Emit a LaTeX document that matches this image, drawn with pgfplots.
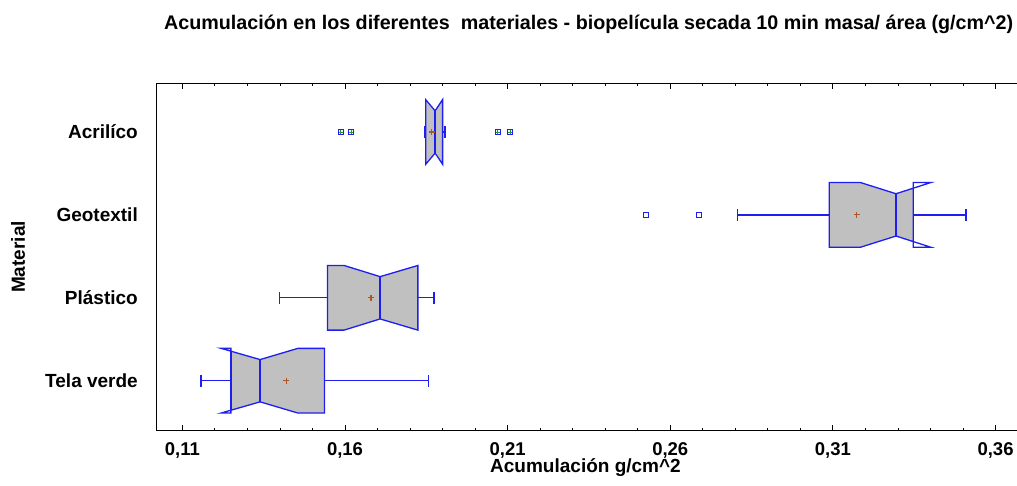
\documentclass[border=0pt]{standalone}
\usepackage{pgfplots}
\pgfplotsset{compat=1.18}
\usepackage{fontspec}
\setmainfont{Liberation Sans}

\definecolor{boxfill}{RGB}{192,192,192}
\definecolor{boxline}{RGB}{30,30,240}
\definecolor{meanc}{RGB}{175,85,35}
\definecolor{outc}{RGB}{40,150,60}

\begin{document}
\begin{tikzpicture}
\begin{axis}[
  scale only axis,
  width=860.3pt, height=347.4pt,
  xmin=0.1021, xmax=0.3666,
  ymin=0.397, ymax=4.587,
  axis x line*=box, axis y line*=left,
  axis line style={-, line width=1pt, black},
  tick align=inside,
  xtick={0.11,0.16,0.21,0.26,0.31,0.36},
  xticklabels={{0,11},{0,16},{0,21},{0,26},{0,31},{0,36}},
  minor x tick num=4,
  major tick length=6pt, minor tick length=2.5pt,
  xtick style={black, line width=0.9pt},
  ytick={1,2,3,4},
  yticklabels={Tela verde,Plástico,Geotextil,Acrilíco},
  ytick style={draw=none},
  xticklabel style={anchor=base, inner sep=0pt, yshift=-24.8pt,
                    font=\bfseries\fontsize{18.5}{20}\selectfont},
  yticklabel style={anchor=base east, inner sep=0pt, xshift=-18.7pt, yshift=-6.8pt,
                    font=\bfseries\fontsize{19}{21}\selectfont},
  unbounded coords=jump,
]
% Tela verde (y=1)
\addplot[fill=boxfill, draw=none] coordinates {
  (0.1249,1.356) (0.1339,1.255) (0.1455,1.39) (0.1537,1.39)
  (0.1537,0.61) (0.1455,0.61) (0.1339,0.745) (0.1249,0.644)} --cycle;
\addplot[boxline, line width=1.3pt] coordinates {
  (0.1249,1.39) (0.1219,1.39) (0.1339,1.255) (0.1455,1.39) (0.1537,1.39)
  (0.1537,0.61) (0.1455,0.61) (0.1339,0.745) (0.1219,0.61) (0.1249,0.61)} --cycle;
\addplot[boxline, line width=1.3pt] coordinates {(0.1249,1.356) (0.1249,0.644)};
\addplot[boxline, line width=1.3pt] coordinates {
  (0.1157,0.93) (0.1157,1.07) (0.1157,nan)
  (0.1157,1) (0.1249,1) (0.1249,nan)
  (0.1537,1) (0.1856,1) (0.1856,nan)
  (0.1856,0.93) (0.1856,1.07)};
\addplot[boxline, line width=2pt] coordinates {(0.1339,1.255) (0.1339,0.745)};

% Plástico (y=2)
\addplot[fill=boxfill, draw=boxline, line width=1.3pt] coordinates {
  (0.1546,2.39) (0.1597,2.39) (0.1708,2.255) (0.1824,2.39)
  (0.1824,1.61) (0.1708,1.745) (0.1597,1.61) (0.1546,1.61)} --cycle;
\addplot[boxline, line width=1.3pt] coordinates {
  (0.1398,1.93) (0.1398,2.07) (0.1398,nan)
  (0.1398,2) (0.1546,2) (0.1546,nan)
  (0.1824,2) (0.1874,2) (0.1874,nan)
  (0.1874,1.93) (0.1874,2.07)};
\addplot[boxline, line width=2pt] coordinates {(0.1708,2.255) (0.1708,1.745)};

% Geotextil (y=3)
\addplot[fill=boxfill, draw=none] coordinates {
  (0.3089,3.39) (0.3185,3.39) (0.3294,3.255) (0.3347,3.322)
  (0.3347,2.678) (0.3294,2.745) (0.3185,2.61) (0.3089,2.61)} --cycle;
\addplot[boxline, line width=1.3pt] coordinates {
  (0.3089,3.39) (0.3185,3.39) (0.3294,3.255) (0.3401,3.39) (0.3347,3.39)
  (0.3347,2.61) (0.3401,2.61) (0.3294,2.745) (0.3185,2.61) (0.3089,2.61)} --cycle;
\addplot[boxline, line width=1.3pt] coordinates {
  (0.2807,2.93) (0.2807,3.07) (0.2807,nan)
  (0.2807,3) (0.3089,3) (0.3089,nan)
  (0.3347,3) (0.3509,3) (0.3509,nan)
  (0.3509,2.93) (0.3509,3.07)};
\addplot[boxline, line width=2pt] coordinates {(0.3294,3.255) (0.3294,2.745)};

% Acrilíco (y=4)
\addplot[fill=boxfill, draw=boxline, line width=1.3pt] coordinates {
  (0.1848,4.39) (0.1877,4.255) (0.1900,4.39)
  (0.1900,3.61) (0.1877,3.745) (0.1848,3.61)} --cycle;
\addplot[boxline, line width=1.3pt] coordinates {
  (0.1846,3.93) (0.1846,4.07) (0.1846,nan)
  (0.1900,4) (0.1907,4) (0.1907,nan)
  (0.1907,3.93) (0.1907,4.07)};
\addplot[boxline, line width=2pt] coordinates {(0.1877,4.255) (0.1877,3.745)};

% medias
\addplot[only marks, mark=+, mark size=3pt, color=meanc, mark options={line width=1.2pt}]
  coordinates {(0.1419,1) (0.1680,2) (0.3173,3) (0.1867,4)};
% valores atipicos
\addplot[only marks, mark=square, mark size=2.6pt, color=boxline, mark options={line width=1pt}]
  coordinates {(0.2525,3) (0.2688,3) (0.1587,4) (0.1619,4) (0.2070,4) (0.2108,4)};
\addplot[only marks, mark=+, mark size=2pt, color=outc, mark options={line width=0.9pt}]
  coordinates {(0.1587,4) (0.1619,4) (0.2070,4) (0.2108,4)};
\end{axis}
\node[anchor=base, inner sep=0pt, font=\bfseries\fontsize{19.7}{22}\selectfont]
  at ([xshift=432pt,yshift=400.7pt]current axis.south west)
  {Acumulación en los diferentes\ \ materiales - biopelícula secada 10 min masa/ área (g/cm\textasciicircum 2)};
\node[anchor=base, inner sep=0pt, font=\bfseries\fontsize{19}{21}\selectfont]
  at ([xshift=428.8pt,yshift=-42pt]current axis.south west) {Acumulación g/cm\textasciicircum 2};
\node[anchor=base, rotate=90, inner sep=0pt, font=\bfseries\fontsize{19}{21}\selectfont]
  at ([xshift=-131.7pt]current axis.west) {Material};
\pgfresetboundingbox
\path (current axis.south west) ++(-156.7pt,-54.3pt) rectangle ++(1017pt,485pt);
\end{tikzpicture}
\end{document}
